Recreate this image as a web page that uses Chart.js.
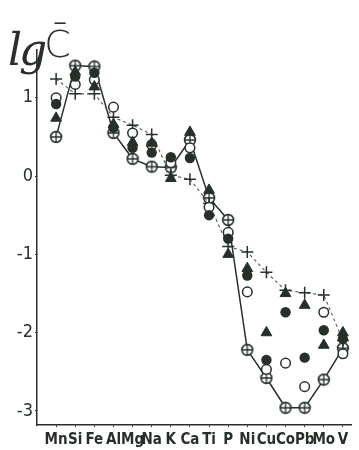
<!DOCTYPE html>
<html>
<head>
<meta charset="utf-8">
<script src="https://cdn.jsdelivr.net/npm/chart.js@4"></script>
<style>
  body { margin: 0; background: #fff; }
  #wrap { position: relative; width: 359px; height: 450px; }
  #ylab { position: absolute; left: 8px; top: 16px; color: #2b2f2c; white-space: nowrap; }
  #ylab .lg { position: relative; top: 8px; font: italic 44px 'DejaVu Serif', serif; letter-spacing: -3px; }
  #ylab .c { font: 38px 'DejaVu Sans', sans-serif; font-weight: 300; }
</style>
</head>
<body>
<div id="wrap">
  <canvas id="chart" width="359" height="450"></canvas>
  <div id="ylab"><span class="lg">lg</span><span class="c">C&#772;</span></div>
</div>
<script>
var elements = ['Mn', 'Si', 'Fe', 'Al', 'Mg', 'Na', 'K', 'Ca', 'Ti', 'P', 'Ni', 'Cu', 'Co', 'Pb', 'Mo', 'V'];
var yTicks = [-3, -2, -1, 0, 1];

// values (lg C)
var plusVals    = [1.24, 1.05, 1.05, 0.75, 0.65, 0.53, 0.01, -0.04, -0.35, -0.90, -0.97, -1.23, -1.46, -1.49, -1.52, -2.10];
var crossVals   = [0.50, 1.41, 1.40, 0.55, 0.22, 0.12, 0.11, 0.46, -0.28, -0.56, -2.22, -2.58, -2.96, -2.96, -2.60, -2.20];
var openVals    = [1.00, 1.17, 1.23, 0.88, 0.55, 0.40, 0.17, 0.36, -0.40, -0.72, -1.48, -2.47, -2.39, -2.69, -1.74, -2.27];
var filledVals  = [0.92, 1.27, 1.32, 0.62, 0.36, 0.30, 0.24, 0.23, -0.50, -0.80, -1.27, -2.35, -1.74, -2.32, -1.97, -2.08];
var triVals     = [0.74, 1.33, 1.14, 0.66, 0.43, 0.42, -0.03, 0.56, -0.18, -1.00, -1.18, -2.00, -1.50, -1.65, -2.16, -2.00];

var ink = '#263029';

function pts(arr) {
    return arr.map(function (v, i) { return {x: i, y: v}; });
}

// circle with a cross inside
var crossCircle = document.createElement('canvas');
crossCircle.width = 14;
crossCircle.height = 14;
(function () {
    var c = crossCircle.getContext('2d');
    c.beginPath();
    c.arc(7, 7, 5.4, 0, Math.PI * 2);
    c.fillStyle = '#fff';
    c.fill();
    c.lineWidth = 1.6;
    c.strokeStyle = ink;
    c.stroke();
    c.beginPath();
    c.moveTo(7, 1.6); c.lineTo(7, 12.4);
    c.moveTo(1.6, 7); c.lineTo(12.4, 7);
    c.lineWidth = 1.3;
    c.stroke();
})();

var bg = {
    id: 'bg',
    beforeDraw: function (chart) {
        var ctx = chart.ctx;
        ctx.save();
        ctx.fillStyle = '#fff';
        ctx.fillRect(0, 0, chart.width, chart.height);
        ctx.restore();
    }
};

new Chart(document.getElementById('chart'), {
    type: 'scatter',
    data: {
        datasets: [
            {
                label: 'open', data: pts(openVals), order: 3,
                pointStyle: 'circle', pointRadius: 4.8, pointBorderWidth: 1.5,
                pointBackgroundColor: '#fff', pointBorderColor: ink, showLine: false
            },
            {
                label: 'filled', data: pts(filledVals), order: 2,
                pointStyle: 'circle', pointRadius: 5.2, pointBorderWidth: 0,
                pointBackgroundColor: ink, pointBorderColor: ink, showLine: false
            },
            {
                label: 'tri', data: pts(triVals), order: 1,
                pointStyle: 'triangle', pointRadius: 6.2, pointBorderWidth: 1,
                pointBackgroundColor: ink, pointBorderColor: ink, showLine: false
            },
            {
                label: 'plus', data: pts(plusVals), order: 4,
                showLine: true, borderColor: '#555a56', borderWidth: 1.1, borderDash: [3, 3],
                pointStyle: 'cross', pointRadius: 6, pointBorderWidth: 1.5, pointBorderColor: ink,
                tension: 0
            },
            {
                label: 'cross', data: pts(crossVals), order: 5,
                showLine: true, borderColor: ink, borderWidth: 1.5,
                pointStyle: crossCircle, pointRadius: 6, tension: 0
            }
        ]
    },
    options: {
        responsive: false,
        animation: false,
        layout: { padding: { left: 0, right: 4, top: 50, bottom: 0 } },
        plugins: { legend: { display: false }, tooltip: { enabled: false } },
        scales: {
            x: {
                type: 'linear', min: -1, max: 15.45,
                afterFit: function (s) { s.height = 25; },
                afterBuildTicks: function (s) { s.ticks = elements.map(function (e, i) { return {value: i}; }); },
                border: { display: true, color: ink, width: 1.5 },
                grid: { drawOnChartArea: false, drawTicks: true, tickLength: 2, color: ink },
                ticks: {
                    autoSkip: false, minRotation: 0, maxRotation: 0, padding: 4, color: ink,
                    font: { family: "'Liberation Sans Narrow', 'DejaVu Sans Condensed', sans-serif", size: 15, weight: 'bold' },
                    callback: function (v) { return elements[v]; }
                }
            },
            y: {
                min: -3.18, max: 1.61,
                afterFit: function (s) { s.width = 37; },
                afterBuildTicks: function (s) { s.ticks = yTicks.map(function (v) { return {value: v}; }); },
                border: { display: true, color: ink, width: 1.5 },
                grid: { drawOnChartArea: false, drawTicks: true, tickLength: 2, color: ink },
                ticks: {
                    padding: 2, color: ink,
                    font: { family: "'DejaVu Sans Condensed', sans-serif", size: 18 },
                    callback: function (v) { return String(v); }
                }
            }
        }
    },
    plugins: [bg]
});
</script>
</body>
</html>
